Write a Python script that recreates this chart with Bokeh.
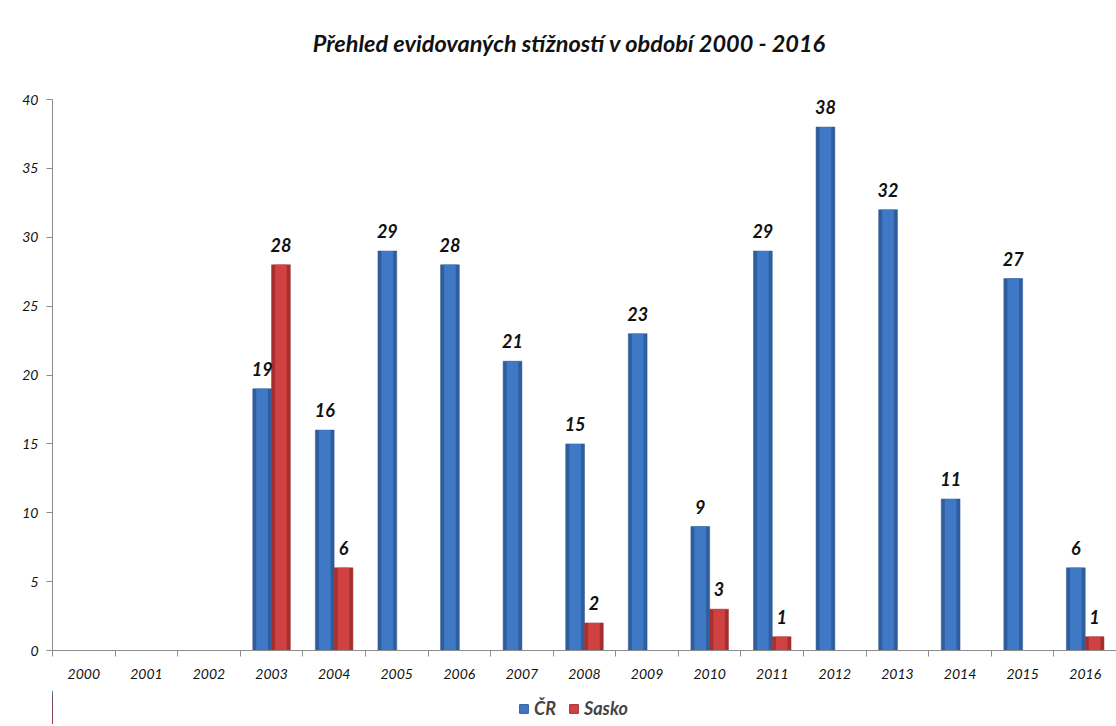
from bokeh.plotting import figure
from bokeh.layouts import column
from bokeh.models import (ColumnDataSource, FixedTicker, LabelSet, Legend, LegendItem,
                          Range1d, Label)
from bokeh.core.properties import value
from bokeh.embed import file_html
from bokeh.resources import INLINE

# ---------------- data ----------------
years = ["2000", "2001", "2002", "2003", "2004", "2005", "2006", "2007", "2008",
         "2009", "2010", "2011", "2012", "2013", "2014", "2015", "2016"]
cr = [None, None, None, 19, 16, 29, 28, 21, 15, 23, 9, 29, 38, 32, 11, 27, 6]
sasko = [None, None, None, 28, 6, None, None, None, 2, None, 3, 1, None, None, None, None, 1]
series_names = ["ČR", "Sasko"]
title_text = "Přehled evidovaných stížností v období 2000 - 2016"
y_ticks = [0, 5, 10, 15, 20, 25, 30, 35, 40]

FONT = "Lato"
BAR_W = 0.3
OFF = 0.15
BLUE_DARK, BLUE_LIGHT = "#2f5e9f", "#3f78c4"
RED_DARK, RED_LIGHT = "#a82f2f", "#d04141"
W = 1116
LEFT = 52

idx = list(range(len(years)))


def make_src(vals, shift):
    xs, ys, labels = [], [], []
    for i, v in zip(idx, vals):
        if v is None:
            continue
        xs.append(i + shift)
        ys.append(v)
        labels.append(str(v))
    return ColumnDataSource(dict(x=xs, top=ys, label=labels))


src_cr = make_src(cr, -OFF)
src_sa = make_src(sasko, OFF)


def strip(height, x0=LEFT):
    # frames in a column are aligned with the main chart's frame (x = LEFT..W)
    f = figure(width=W, height=height, output_backend="svg", toolbar_location=None,
               x_range=Range1d(x0, x0 + W - LEFT), y_range=Range1d(0, height),
               min_border_left=LEFT, min_border_right=0, min_border_top=0,
               min_border_bottom=0)
    f.axis.visible = False
    f.xgrid.grid_line_color = None
    f.ygrid.grid_line_color = None
    f.outline_line_color = None
    return f


# ---------------- title strip ----------------
top = strip(80)
top.add_layout(Label(x=569, y=38, text=title_text, text_align="center",
                     text_baseline="middle", text_font=FONT,
                     text_font_style="bold italic", text_font_size="23.5px",
                     text_color="#111111"))

# ---------------- main chart ----------------
p = figure(width=W, height=610, output_backend="svg", toolbar_location=None,
           x_range=Range1d(-0.5, 16.5), y_range=Range1d(0, 40),
           min_border_left=LEFT, min_border_right=0, min_border_top=19,
           min_border_bottom=40)
p.outline_line_color = None
p.xgrid.grid_line_color = None
p.ygrid.grid_line_color = None
p.background_fill_color = "white"
p.border_fill_color = "white"

# bars: darker base + lighter centre to suggest the bevelled look
p.vbar(x="x", top="top", width=BAR_W, source=src_cr, fill_color=BLUE_DARK,
       line_color="#2a5590", line_width=0.5)
p.vbar(x="x", top="top", width=BAR_W * 0.62, source=src_cr, fill_color=BLUE_LIGHT,
       line_color=None)
p.vbar(x="x", top="top", width=BAR_W, source=src_sa, fill_color=RED_DARK,
       line_color="#982a2a", line_width=0.5)
p.vbar(x="x", top="top", width=BAR_W * 0.62, source=src_sa, fill_color=RED_LIGHT,
       line_color=None)

for src in (src_cr, src_sa):
    p.add_layout(LabelSet(x="x", y="top", text="label", source=src, y_offset=13,
                          text_align="center", text_baseline="bottom",
                          text_font=value(FONT), text_font_style="bold italic",
                          text_font_size="18px", text_color="#111111"))

xa = p.xaxis[0]
xa.ticker = FixedTicker(ticks=idx, minor_ticks=[i - 0.5 for i in idx] + [16.5])
xa.major_label_overrides = {i: y for i, y in zip(idx, years)}
xa.major_tick_out = 0
xa.major_tick_in = 0
xa.minor_tick_out = 6
xa.minor_tick_in = 0
xa.minor_tick_line_color = "#8c8c8c"
xa.axis_line_color = "#8c8c8c"
xa.major_label_standoff = 12
xa.major_label_text_font = FONT
xa.major_label_text_font_style = "italic"
xa.major_label_text_font_size = "14px"
xa.major_label_text_color = "#111111"

ya = p.yaxis[0]
ya.ticker = FixedTicker(ticks=y_ticks)
ya.minor_tick_line_color = None
ya.major_tick_out = 6
ya.major_tick_in = 0
ya.major_tick_line_color = "#8c8c8c"
ya.axis_line_color = "#8c8c8c"
ya.major_label_standoff = 8
ya.major_label_text_font = FONT
ya.major_label_text_font_style = "italic"
ya.major_label_text_font_size = "14px"
ya.major_label_text_color = "#111111"

# ---------------- legend strip ----------------
# its x range is far away from the data, so the series drawn here stay out of
# view and only supply the legend swatches
lg = strip(34, x0=5000)
r1 = lg.vbar(x="x", top="top", width=BAR_W, source=src_cr, fill_color=BLUE_LIGHT,
             line_color=BLUE_DARK)
r2 = lg.vbar(x="x", top="top", width=BAR_W, source=src_sa, fill_color=RED_LIGHT,
             line_color=RED_DARK)
legend = Legend(items=[LegendItem(label=series_names[0], renderers=[r1]),
                       LegendItem(label=series_names[1], renderers=[r2])],
                orientation="horizontal", location=(518 - LEFT, 5),
                label_text_font=FONT, label_text_font_style="bold italic",
                label_text_font_size="18px", glyph_width=11, glyph_height=11,
                label_standoff=5, spacing=12, padding=0, margin=0,
                border_line_color=None, background_fill_alpha=0)
lg.add_layout(legend, "center")

layout = column(top, p, lg, spacing=0)
open("out.html", "w").write(file_html(layout, INLINE))
